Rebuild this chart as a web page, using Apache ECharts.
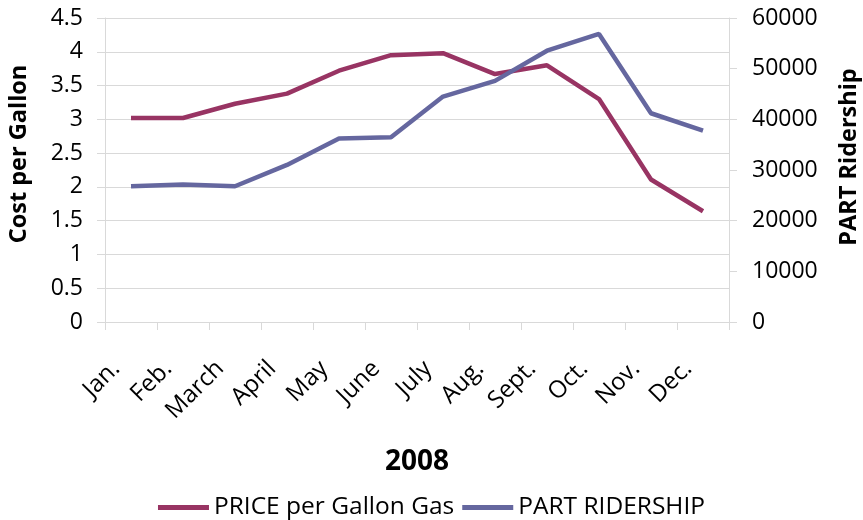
<!DOCTYPE html>
<html>
<head>
<meta charset="utf-8">
<script src="https://cdn.jsdelivr.net/npm/echarts@6/dist/echarts.min.js"></script>
<style>
  html, body { margin: 0; padding: 0; background: #fff; }
  #chart { width: 863px; height: 520px; }
</style>
</head>
<body>
<div id="chart"></div>
<script>
// months of 2008
const months = ['Jan.', 'Feb.', 'March', 'April', 'May', 'June', 'July', 'Aug.', 'Sept.', 'Oct.', 'Nov.', 'Dec.']
// price per gallon, left axis
const gasPrice = [3.02, 3.02, 3.23, 3.38, 3.72, 3.95, 3.98, 3.67, 3.80, 3.30, 2.11, 1.64]
// PART ridership, right axis
const ridership = [26800, 27150, 26800, 31000, 36200, 36450, 44500, 47600, 53550, 56850, 41200, 37750]

const font = 'Open Sans'
const gridColor = '#d9d9d9'

const chart = echarts.init(document.getElementById('chart'))
const option = {
  animation: false,
  textStyle: { fontFamily: font },
  grid: { left: 105, right: 134, top: 18, bottom: 198, outerBoundsMode: 'none' },
  legend: {
    top: 490,
    left: 'center',
    icon: 'rect',
    itemWidth: 51,
    itemHeight: 5,
    itemGap: 8,
    textStyle: { fontFamily: font, fontSize: 24.5, color: '#000' },
    data: ['PRICE per Gallon Gas', 'PART RIDERSHIP'],
  },
  xAxis: {
    type: 'category',
    data: months,
    boundaryGap: true,
    name: '2008',
    nameLocation: 'middle',
    nameGap: 126,
    nameTextStyle: { fontFamily: font, fontWeight: 'bold', fontSize: 28, color: '#000' },
    axisLine: { lineStyle: { color: gridColor } },
    axisTick: { show: true, length: 8, lineStyle: { color: gridColor } },
    axisLabel: { rotate: 45, fontSize: 24, color: '#000', margin: 28, padding: [0, 21, 0, 0], interval: 0 },
  },
  yAxis: [
    {
      type: 'value',
      min: 0,
      max: 4.5,
      interval: 0.5,
      name: 'Cost per Gallon',
      nameLocation: 'middle',
      nameRotate: 90,
      nameGap: 74,
      nameTextStyle: { fontFamily: font, fontWeight: 'bold', fontSize: 23.5, color: '#000', padding: [0, 0, 0, 32] },
      axisLine: { show: true, lineStyle: { color: gridColor } },
      axisTick: { show: true, length: 8, lineStyle: { color: gridColor } },
      axisLabel: { fontSize: 23, color: '#000', margin: 22 },
      splitLine: { lineStyle: { color: gridColor } },
    },
    {
      type: 'value',
      min: 0,
      max: 60000,
      interval: 10000,
      name: 'PART Ridership',
      nameLocation: 'middle',
      nameRotate: 90,
      nameGap: 108,
      nameTextStyle: { fontFamily: font, fontWeight: 'bold', fontSize: 23.5, color: '#000', padding: [0, 0, 0, 26] },
      axisLine: { show: true, lineStyle: { color: gridColor } },
      axisTick: { show: true, length: 8, lineStyle: { color: gridColor } },
      axisLabel: { fontSize: 23, color: '#000', margin: 23, formatter: (v) => String(v) },
      splitLine: { show: false },
    },
  ],
  series: [
    {
      name: 'PRICE per Gallon Gas',
      type: 'line',
      yAxisIndex: 0,
      data: gasPrice,
      symbol: 'none',
      itemStyle: { color: '#983463' },
      lineStyle: { width: 4.5, color: '#983463' },
    },
    {
      name: 'PART RIDERSHIP',
      type: 'line',
      yAxisIndex: 1,
      data: ridership,
      symbol: 'none',
      itemStyle: { color: '#65679f' },
      lineStyle: { width: 4.5, color: '#65679f' },
    },
  ],
}
option && chart.setOption(option)
</script>
</body>
</html>
